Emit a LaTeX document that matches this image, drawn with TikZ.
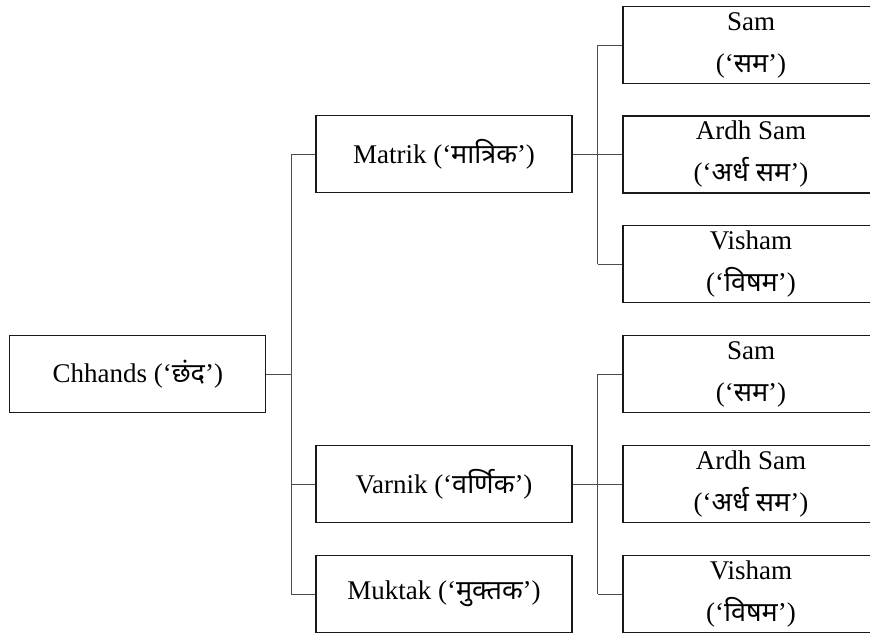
\documentclass[tikz,border=0pt]{standalone}
\usepackage{fontspec}
\setmainfont{Liberation Serif}
\newfontfamily\deva[Script=Devanagari]{Noto Sans}
\newcommand{\hi}[1]{{\deva #1}}
\begin{document}
\begin{tikzpicture}[x=1pt,y=-1pt,
  box/.style={draw=black!90, line width=1.3pt, minimum width=256pt,
    minimum height=77pt, inner sep=0pt, align=center,
    font=\fontsize{27}{42}\selectfont},
  link/.style={draw=black!70, line width=0.9pt}]
\useasboundingbox (0,0) rectangle (870,635);

% root
\node[box] (chh) at (137.8,374) {Chhands (`\hi{छंद}')};

% second level
\node[box] (mat) at (444,154) {Matrik (`\hi{मात्रिक}')};
\node[box] (var) at (444,484) {Varnik (`\hi{वर्णिक}')};
\node[box] (muk) at (444,594) {Muktak (`\hi{मुक्तक}')};

% third level under Matrik
\node[box] (ms) at (751,45)  {Sam\\(`\hi{सम}')};
\node[box] (ma) at (751,154.5) {Ardh Sam\\(`\hi{अर्ध सम}')};
\node[box] (mv) at (751,264) {Visham\\(`\hi{विषम}')};

% third level under Varnik
\node[box] (vs) at (751,374) {Sam\\(`\hi{सम}')};
\node[box] (va) at (751,484) {Ardh Sam\\(`\hi{अर्ध सम}')};
\node[box] (vv) at (751,594) {Visham\\(`\hi{विषम}')};

% trunk positions
\coordinate (t0) at (291,0);
\coordinate (t1) at (597.7,0);

% root to second level
\draw[link] (chh.east) -- (chh.east -| t0);
\draw[link] (t0 |- mat.west) -- (t0 |- muk.west);
\draw[link] (t0 |- mat.west) -- (mat.west);
\draw[link] (t0 |- var.west) -- (var.west);
\draw[link] (t0 |- muk.west) -- (muk.west);

% Matrik branch
\draw[link] (mat.east) -- (mat.east -| t1);
\draw[link] (t1 |- ms.west) -- (t1 |- mv.west);
\draw[link] (t1 |- ms.west) -- (ms.west);
\draw[link] (t1 |- ma.west) -- (ma.west);
\draw[link] (t1 |- mv.west) -- (mv.west);

% Varnik branch
\draw[link] (var.east) -- (var.east -| t1);
\draw[link] (t1 |- vs.west) -- (t1 |- vv.west);
\draw[link] (t1 |- vs.west) -- (vs.west);
\draw[link] (t1 |- va.west) -- (va.west);
\draw[link] (t1 |- vv.west) -- (vv.west);
\end{tikzpicture}
\end{document}
